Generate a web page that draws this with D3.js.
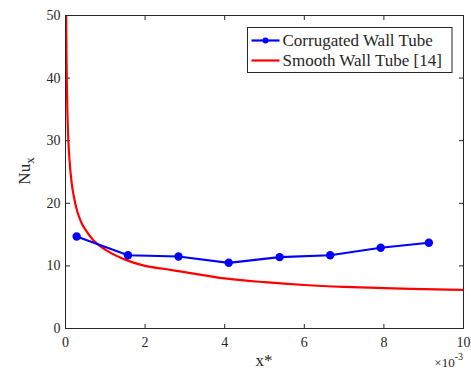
<!DOCTYPE html>
<html><head><meta charset="utf-8">
<script src="https://cdn.jsdelivr.net/npm/d3@7"></script>
<style>
body{margin:0;background:#fff}
svg{display:block}
svg text, svg tspan{font-family:'Liberation Serif', Tinos !important}
</style>
</head><body>
<script>
// Data (x* in units of 1e-3)
const corrX = [0.28, 1.57, 2.84, 4.10, 5.38, 6.65, 7.92, 9.13];
const corrNu = [14.7, 11.7, 11.5, 10.5, 11.4, 11.7, 12.9, 13.7];
const smoothX = [0.017, 0.025, 0.035, 0.05, 0.075, 0.1, 0.15, 0.2, 0.3, 0.4, 0.5, 0.7, 1.0, 1.5, 2, 2.5, 3, 4, 5, 6, 7, 8, 9, 10];
const smoothNu = [50, 43.5, 38.5, 34.0, 29.6, 27.0, 23.5, 21.4, 18.6, 16.9, 15.8, 14.1, 12.6, 11.0, 10.0, 9.5, 9.0, 8.0, 7.4, 6.95, 6.65, 6.45, 6.3, 6.17];
const xTicks = [0, 2, 4, 6, 8, 10];
const yTicks = [0, 10, 20, 30, 40, 50];
const seriesNames = ["Corrugated Wall Tube", "Smooth Wall Tube [14]"];

const W = 471, H = 370;
const L = 65.5, R = 463.5, T = 15.5, B = 328.5;
const svg = d3.select("body").append("svg").attr("width", W).attr("height", H);
const x = d3.scaleLinear().domain([0, 10]).range([L, R]);
const y = d3.scaleLinear().domain([0, 50]).range([B, T]);
const txt = (sel) => sel.append("text").style("font-family", "Tinos").attr("fill", "#262626");

const tk = 4.5;
const g = svg.append("g");
xTicks.forEach(t => {
  g.append("line").attr("x1", x(t)).attr("x2", x(t)).attr("y1", B).attr("y2", B - tk).attr("stroke", "#262626");
  g.append("line").attr("x1", x(t)).attr("x2", x(t)).attr("y1", T).attr("y2", T + tk).attr("stroke", "#262626");
  txt(g).attr("x", x(t)).attr("y", B + 18.5).attr("text-anchor", "middle").style("font-size", "14px").text(t);
});
yTicks.forEach(t => {
  g.append("line").attr("x1", L).attr("x2", L + tk).attr("y1", y(t)).attr("y2", y(t)).attr("stroke", "#262626");
  g.append("line").attr("x1", R).attr("x2", R - tk).attr("y1", y(t)).attr("y2", y(t)).attr("stroke", "#262626");
  txt(g).attr("x", L - 5).attr("y", y(t) + 4.5).attr("text-anchor", "end").style("font-size", "14px").text(t);
});

const smooth = smoothX.map((v, i) => [v, smoothNu[i]]);
const corr = corrX.map((v, i) => [v, corrNu[i]]);
svg.append("clipPath").attr("id", "clip").append("rect").attr("x", L).attr("y", T).attr("width", R - L).attr("height", B - T);
svg.append("path").datum(smooth).attr("clip-path", "url(#clip)")
  .attr("d", d3.line().x(d => x(d[0])).y(d => y(d[1])).curve(d3.curveMonotoneX))
  .attr("fill", "none").attr("stroke", "#ff0000").attr("stroke-width", 2.2);
svg.append("path").datum(corr)
  .attr("d", d3.line().x(d => x(d[0])).y(d => y(d[1])))
  .attr("fill", "none").attr("stroke", "#0000ff").attr("stroke-width", 2.2);
svg.selectAll("circle.m").data(corr).enter().append("circle").attr("class", "m")
  .attr("cx", d => x(d[0])).attr("cy", d => y(d[1])).attr("r", 4.2).attr("fill", "#0000ff");

svg.append("rect").attr("x", L).attr("y", T).attr("width", R - L).attr("height", B - T)
  .attr("fill", "none").attr("stroke", "#262626").attr("stroke-width", 1);

txt(svg).attr("x", 264).attr("y", 366).attr("text-anchor", "middle").style("font-size", "17px").text("x*");
const xe = txt(svg).attr("x", 463).attr("y", 367).attr("text-anchor", "end").style("font-size", "13px");
xe.append("tspan").text("\u00d710");
xe.append("tspan").attr("dy", -7).style("font-size", "10px").text("-3");
const yl = txt(svg).attr("transform", "translate(30,171) rotate(-90)").attr("text-anchor", "middle").style("font-size", "17px");
yl.append("tspan").text("Nu");
yl.append("tspan").attr("dy", 4).style("font-size", "13px").text("x");

const lg = svg.append("g");
lg.append("rect").attr("x", 247.5).attr("y", 27.5).attr("width", 204.5).attr("height", 45)
  .attr("fill", "#fff").attr("stroke", "#262626").attr("stroke-width", 1);
const colors = ["#0000ff", "#ff0000"];
seriesNames.forEach((n, i) => {
  const yy = 40.5 + i * 20;
  lg.append("line").attr("x1", 251.5).attr("x2", 279.5).attr("y1", yy).attr("y2", yy).attr("stroke", colors[i]).attr("stroke-width", 2.2);
  if (i === 0) lg.append("circle").attr("cx", 265.5).attr("cy", yy).attr("r", 3).attr("fill", colors[i]);
  txt(lg).attr("x", 282.5).attr("y", yy + 5.5).style("font-size", "17px").text(n);
});
</script>
</body></html>
